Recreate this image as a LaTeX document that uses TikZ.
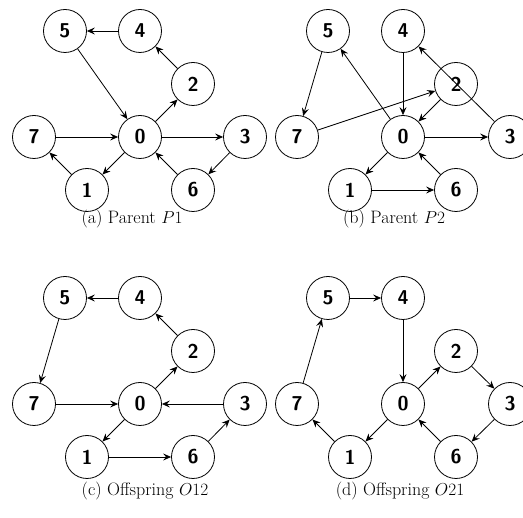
\documentclass[tikz,border=0pt]{standalone}
\usetikzlibrary{arrows.meta}
\begin{document}
\begin{tikzpicture}[x=1pt,y=-1pt,
  vtx/.style={circle,draw,line width=0.8pt,minimum size=43pt,inner sep=0pt,
    font=\fontsize{20}{22}\selectfont\sffamily\bfseries},
  arr/.style={line width=0.8pt,-{Stealth[length=8pt,width=7pt,inset=3pt]}},
  captxt/.style={font=\fontsize{18}{20}\selectfont}]
\useasboundingbox (0,0) rectangle (523,518);
\clip (0,0) rectangle (523,518);
% (a)
\begin{scope}[shift={(0,0)}]
\node[vtx] (a5) at (65,31) {5};
\node[vtx] (a4) at (140,31) {4};
\node[vtx] (a2) at (193,84) {2};
\node[vtx] (a0) at (140,137) {0};
\node[vtx] (a7) at (34,137) {7};
\node[vtx] (a3) at (245,137) {3};
\node[vtx] (a1) at (87,190) {1};
\node[vtx] (a6) at (193,190) {6};
\draw[arr] (a4) -- (a5);
\draw[arr] (a5) -- (a0);
\draw[arr] (a2) -- (a4);
\draw[arr] (a0) -- (a2);
\draw[arr] (a7) -- (a0);
\draw[arr] (a0) -- (a3);
\draw[arr] (a0) -- (a1);
\draw[arr] (a1) -- (a7);
\draw[arr] (a3) -- (a6);
\draw[arr] (a6) -- (a0);
\node[captxt] (ca) at (132,219) {(a) Parent $P1$};
\end{scope}
% (b)
\begin{scope}[shift={(263,0)}]
\node[vtx] (b5) at (65,31) {5};
\node[vtx] (b4) at (140,31) {4};
\node[vtx] (b2) at (193,84) {2};
\node[vtx] (b0) at (140,137) {0};
\node[vtx] (b7) at (34,137) {7};
\node[vtx] (b3) at (247,137) {3};
\node[vtx] (b1) at (87,190) {1};
\node[vtx] (b6) at (193,190) {6};
\draw[arr] (b5) -- (b7);
\draw[arr] (b0) -- (b5);
\draw[arr] (b4) -- (b0);
\draw[arr] (b7) -- (b2);
\draw[arr] (b2) -- (b0);
\draw[arr] (b3) -- (b4);
\draw[arr] (b0) -- (b3);
\draw[arr] (b0) -- (b1);
\draw[arr] (b1) -- (b6);
\draw[arr] (b6) -- (b0);
\node[captxt] (cb) at (131,219) {(b) Parent $P2$};
\end{scope}
% (c)
\begin{scope}[shift={(0,267)}]
\node[vtx] (c5) at (65,31) {5};
\node[vtx] (c4) at (140,31) {4};
\node[vtx] (c2) at (193,84) {2};
\node[vtx] (c0) at (140,137) {0};
\node[vtx] (c7) at (34,137) {7};
\node[vtx] (c3) at (245,137) {3};
\node[vtx] (c1) at (87,190) {1};
\node[vtx] (c6) at (193,190) {6};
\draw[arr] (c4) -- (c5);
\draw[arr] (c5) -- (c7);
\draw[arr] (c2) -- (c4);
\draw[arr] (c0) -- (c2);
\draw[arr] (c7) -- (c0);
\draw[arr] (c3) -- (c0);
\draw[arr] (c0) -- (c1);
\draw[arr] (c1) -- (c6);
\draw[arr] (c6) -- (c3);
\node[captxt] (cc) at (145,224) {(c) Offspring $O12$};
\end{scope}
% (d)
\begin{scope}[shift={(263,267)}]
\node[vtx] (d5) at (65,31) {5};
\node[vtx] (d4) at (140,31) {4};
\node[vtx] (d2) at (193,84) {2};
\node[vtx] (d0) at (140,137) {0};
\node[vtx] (d7) at (34,137) {7};
\node[vtx] (d3) at (247,137) {3};
\node[vtx] (d1) at (87,190) {1};
\node[vtx] (d6) at (193,190) {6};
\draw[arr] (d5) -- (d4);
\draw[arr] (d4) -- (d0);
\draw[arr] (d7) -- (d5);
\draw[arr] (d0) -- (d2);
\draw[arr] (d2) -- (d3);
\draw[arr] (d3) -- (d6);
\draw[arr] (d6) -- (d0);
\draw[arr] (d0) -- (d1);
\draw[arr] (d1) -- (d7);
\node[captxt] (cd) at (137,224) {(d) Offspring $O21$};
\end{scope}
\end{tikzpicture}
\end{document}
